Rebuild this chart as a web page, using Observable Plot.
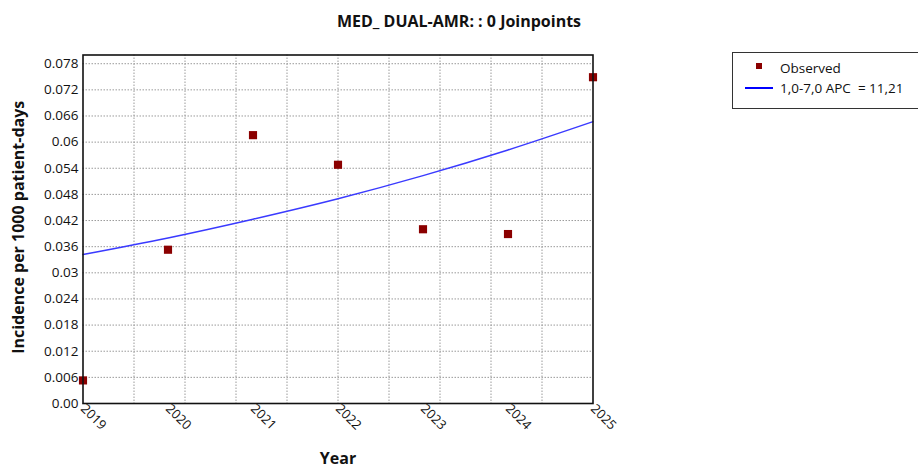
<!DOCTYPE html>
<html><head><meta charset="utf-8">
<script src="https://cdn.jsdelivr.net/npm/d3@7"></script>
<script src="https://cdn.jsdelivr.net/npm/@observablehq/plot@0.6"></script>
<style>
body{margin:0;background:#fff;font-family:"Open Sans",sans-serif;}
#wrap{position:relative;width:918px;height:469px;overflow:hidden;}
#title{position:absolute;top:10px;left:0;width:918px;text-align:center;font-weight:bold;font-size:16px;color:#111;}
#legend{position:absolute;left:732px;top:52px;}
</style></head><body>
<div id="wrap"><div id="chart"></div><div id="title"></div><div id="legend"></div></div>
<script>
const titleText = "MED_ DUAL-AMR: : 0 Joinpoints";
const yLabel = "Incidence per 1000 patient-days";
const xLabel = "Year";
const years = [2019, 2020, 2021, 2022, 2023, 2024, 2025];
const observed = [0.0053, 0.0353, 0.0616, 0.0548, 0.0400, 0.0389, 0.0749];
const fitted = [0.0342, 0.0380, 0.0423, 0.0470, 0.0523, 0.0582, 0.0647];
const yTicks = [0, 0.006, 0.012, 0.018, 0.024, 0.03, 0.036, 0.042, 0.048, 0.054, 0.06, 0.066, 0.072, 0.078];
const yTickLabels = ["0.00", "0.006", "0.012", "0.018", "0.024", "0.03", "0.036", "0.042", "0.048", "0.054", "0.06", "0.066", "0.072", "0.078"];
const xGrid = [2019.6, 2020.2, 2020.8, 2021.4, 2022.0, 2022.6, 2023.2, 2023.8, 2024.4];
const legendLabels = ["Observed", "1,0-7,0 APC  = 11,21"];

const obsData = years.map((y, i) => ({year: y, value: observed[i]}));
const fitData = years.map((y, i) => ({year: y, value: fitted[i]}));
const yLab = new Map(yTicks.map((t, i) => [t, yTickLabels[i]]));

const chart = Plot.plot({
  width: 918, height: 469,
  marginLeft: 82.5, marginRight: 325.5, marginTop: 54.5, marginBottom: 66,
  style: {fontFamily: "Open Sans, sans-serif", fontSize: "12px", color: "#111", background: "#fff"},
  x: {domain: [2019, 2025]},
  y: {domain: [0, 0.08]},
  marks: [
    Plot.ruleY(yTicks, {stroke: "#9a9a9a", strokeDasharray: "1.5,1.5", strokeWidth: 1}),
    Plot.ruleX(xGrid, {stroke: "#9a9a9a", strokeDasharray: "1.5,1.5", strokeWidth: 1}),
    Plot.axisY({ticks: yTicks, tickFormat: d => yLab.get(d), tickSize: 0, tickPadding: 4.5, label: null, fontSize: 13.5}),
    Plot.axisX({ticks: years, tickFormat: d => String(d), tickSize: 0, tickPadding: 3, tickRotate: 45, label: null, fontSize: 13}),
    Plot.line(fitData, {x: "year", y: "value", stroke: "#3a3aff", strokeWidth: 1.4, curve: "monotone-x"}),
    Plot.dot(obsData, {x: "year", y: "value", symbol: "square", r: 4.6, fill: "#8b0000", stroke: "none"}),
    Plot.frame({stroke: "#111", strokeWidth: 1.6}),
    Plot.text([yLabel], {frameAnchor: "left", textAnchor: "middle", dx: -64, dy: -2, rotate: -90, fontWeight: "bold", fontSize: 16, fill: "#111"}),
    Plot.text([xLabel], {frameAnchor: "bottom", textAnchor: "middle", dy: 60, fontWeight: "bold", fontSize: 16, fill: "#111"})
  ]
});
document.getElementById("chart").appendChild(chart);
document.getElementById("title").textContent = titleText;

const lg = d3.select("#legend").append("svg").attr("width", 200).attr("height", 57);
lg.append("rect").attr("x", 0.5).attr("y", 0.5).attr("width", 220).attr("height", 56).attr("fill", "#fff").attr("stroke", "#333");
lg.append("rect").attr("x", 24).attr("y", 11).attr("width", 6).attr("height", 6).attr("fill", "#8b0000");
lg.append("line").attr("x1", 13).attr("x2", 41).attr("y1", 36).attr("y2", 36).attr("stroke", "#0000ff").attr("stroke-width", 2);
lg.selectAll("text.l").data(legendLabels).join("text")
  .attr("x", 48).attr("y", (d, i) => 20.5 + i * 20)
  .attr("font-family", "Open Sans, sans-serif").attr("font-size", 13.5).attr("fill", "#111")
  .attr("xml:space", "preserve").style("white-space", "pre")
  .text(d => d);
</script>
</body></html>
